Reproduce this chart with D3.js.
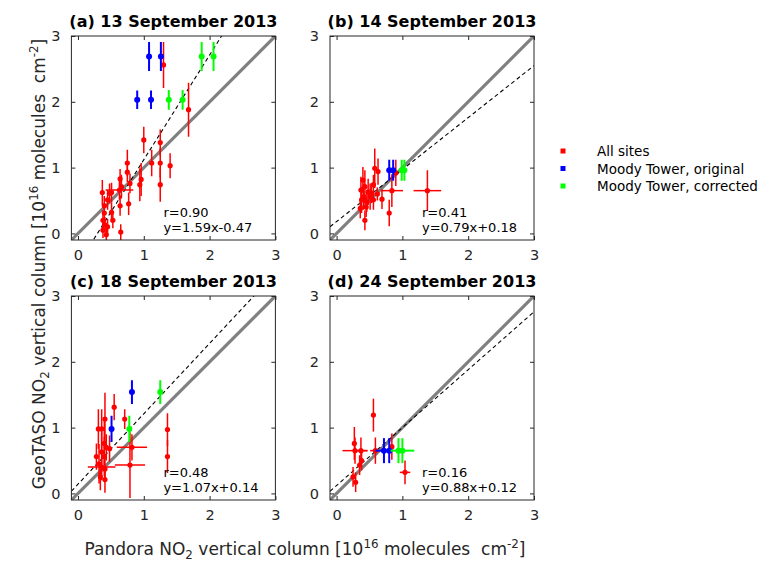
<!DOCTYPE html>
<html>
<head>
<meta charset="utf-8">
<script src="https://cdn.jsdelivr.net/npm/d3@7"></script>
<style>
  body { margin: 0; background: #fff; }
  svg { font-family: "DejaVu Sans", sans-serif; }
</style>
</head>
<body>
<div id="app"></div>
<script>
// each point: [pandora, geotaso, yErr, xErr]
const redA = [
  [1.30, 2.56, 0.35, 0], [1.68, 1.88, 0.41, 0], [1.00, 1.42, 0.20, 0], [1.25, 1.38, 0.20, 0],
  [1.12, 1.07, 0.20, 0], [1.25, 1.07, 0.22, 0], [1.25, 0.74, 0.26, 0], [1.40, 1.03, 0.19, 0],
  [0.75, 1.07, 0.20, 0], [0.75, 0.93, 0.15, 0], [0.79, 0.76, 0.15, 0], [0.96, 0.82, 0.25, 0],
  [0.94, 0.74, 0.25, 0], [0.64, 0.83, 0.15, 0], [0.66, 0.71, 0.18, 0], [0.63, 0.66, 0.15, 0.21],
  [0.77, 0.45, 0.17, 0], [0.64, 0.42, 0.15, 0], [0.48, 0.61, 0.15, 0], [0.37, 0.62, 0.19, 0],
  [0.51, 0.62, 0.15, 0], [0.45, 0.51, 0.15, 0], [0.40, 0.42, 0.15, 0], [0.51, 0.32, 0.15, 0],
  [0.53, 0.20, 0.12, 0], [0.40, 0.31, 0.15, 0], [0.38, 0.20, 0.15, 0], [0.41, 0.13, 0.12, 0],
  [0.38, 0.05, 0.12, 0], [0.45, 0.10, 0.12, 0], [0.43, -0.02, 0.12, 0], [0.65, 0.02, 0.12, 0]
]
const blueA = [[1.08, 2.69, 0.22, 0], [1.26, 2.69, 0.22, 0], [0.90, 2.03, 0.14, 0], [1.11, 2.03, 0.14, 0]]
const greenA = [[1.88, 2.69, 0.22, 0], [2.06, 2.69, 0.22, 0], [1.38, 2.03, 0.15, 0], [1.59, 2.03, 0.15, 0]]

const redB = [
  [0.37, 0.66, 0.20, 0], [0.43, 0.71, 0.25, 0], [0.41, 0.56, 0.20, 0], [0.48, 0.63, 0.20, 0],
  [0.53, 0.61, 0.15, 0], [0.56, 0.74, 0.15, 0], [0.58, 0.99, 0.30, 0], [0.63, 0.94, 0.20, 0],
  [0.36, 0.38, 0.15, 0], [0.43, 0.20, 0.15, 0], [0.69, 0.52, 0.15, 0], [0.80, 0.31, 0.20, 0],
  [0.84, 0.65, 0.25, 0.17], [0.90, 0.92, 0.20, 0], [0.46, 0.48, 0.15, 0], [0.51, 0.56, 0.20, 0],
  [0.38, 0.51, 0.20, 0], [0.56, 0.51, 0.15, 0], [0.40, 0.81, 0.20, 0], [1.38, 0.65, 0.31, 0.21],
  [0.45, 0.40, 0.15, 0], [0.62, 0.60, 0.10, 0]
]
const blueB = [[0.80, 0.96, 0.16, 0], [0.86, 0.96, 0.16, 0]]
const greenB = [[0.99, 0.96, 0.16, 0], [1.03, 0.96, 0.16, 0]]

const redC = [
  [1.36, 0.97, 0.25, 0], [1.36, 0.56, 0.25, 0], [0.82, 0.70, 0.20, 0.23], [0.79, 0.43, 0.50, 0.23],
  [0.36, 0.40, 0.20, 0.21], [0.71, 1.13, 0.15, 0], [0.55, 1.31, 0.20, 0], [0.41, 1.13, 0.40, 0],
  [0.31, 0.98, 0.30, 0], [0.36, 0.98, 0.30, 0], [0.40, 0.76, 0.40, 0], [0.48, 0.68, 0.20, 0],
  [0.28, 0.56, 0.20, 0], [0.36, 0.63, 0.30, 0], [0.40, 0.56, 0.30, 0], [0.32, 0.45, 0.30, 0],
  [0.41, 0.37, 0.20, 0], [0.34, 0.25, 0.20, 0], [0.41, 0.21, 0.20, 0], [0.43, 0.70, 0.20, 0]
]
const blueC = [[0.82, 1.54, 0.18, 0], [0.51, 0.98, 0.20, 0]]
const greenC = [[1.25, 1.54, 0.18, 0], [0.78, 0.98, 0.20, 0]]

const redD = [
  [0.56, 1.19, 0.25, 0], [0.27, 0.76, 0.25, 0], [0.28, 0.65, 0.20, 0.19], [0.37, 0.65, 0.20, 0.10],
  [0.38, 0.50, 0.15, 0], [0.35, 0.43, 0.15, 0], [0.25, 0.25, 0.15, 0], [0.29, 0.17, 0.15, 0],
  [0.59, 0.65, 0.20, 0.08], [0.84, 0.71, 0.20, 0], [1.04, 0.32, 0.18, 0.08]
]
const blueD = [[0.72, 0.65, 0.19, 0.13], [0.80, 0.65, 0.19, 0]]
const greenD = [[0.94, 0.65, 0.19, 0], [1.00, 0.65, 0.19, 0.18]]

const titles = ["(a) 13 September 2013", "(b) 14 September 2013", "(c) 18 September 2013", "(d) 24 September 2013"]
const rValues = ["0.90", "0.41", "0.48", "0.16"]
const slopes = [1.59, 0.79, 1.07, 0.88]
const intercepts = [-0.47, 0.18, 0.14, 0.12]
const tickValues = [0, 1, 2, 3]
const legendLabels = ["All sites", "Moody Tower, original", "Moody Tower, corrected"]
const colors = ["#ff0000", "#0000ff", "#00ff00"]

const reds = [redA, redB, redC, redD]
const blues = [blueA, blueB, blueC, blueD]
const greens = [greenA, greenB, greenC, greenD]

const W = 763, H = 563
const panelLefts = [71.4, 330, 71.4, 330]
const panelTops = [36, 36, 296, 296]
const size = 204

const svg = d3.select('#app').append('svg')
    .attr('width', W)
    .attr('height', H)

const fmtEq = (m, b) => `y=${m.toFixed(2)}x${b < 0 ? '-' : '+'}${Math.abs(b).toFixed(2)}`

for (let p = 0; p < 4; p++) {
    const L = panelLefts[p], T = panelTops[p]
    const x = d3.scaleLinear([-0.1, 3], [L, L + size])
    const y = d3.scaleLinear([-0.1, 3], [T + size, T])

    const g = svg.append('g')

    g.append('clipPath').attr('id', `clip${p}`)
        .append('rect').attr('x', L).attr('y', T).attr('width', size).attr('height', size)

    const plot = g.append('g').attr('clip-path', `url(#clip${p})`)

    // 1:1 line
    plot.append('line')
        .attr('x1', x(-0.1)).attr('y1', y(-0.1))
        .attr('x2', x(3)).attr('y2', y(3))
        .attr('stroke', '#808080').attr('stroke-width', 3.2)

    // regression line
    const m = slopes[p], b = intercepts[p]
    plot.append('line')
        .attr('x1', x(-0.1)).attr('y1', y(m * -0.1 + b))
        .attr('x2', x(3)).attr('y2', y(m * 3 + b))
        .attr('stroke', '#000').attr('stroke-width', 1.1)
        .attr('stroke-dasharray', '4,3')

    const drawSeries = (data, color, lw, r) => {
        const s = plot.append('g')
        s.selectAll('.ey').data(data).join('line')
            .attr('x1', d => x(d[0])).attr('x2', d => x(d[0]))
            .attr('y1', d => y(d[1] - d[2])).attr('y2', d => y(d[1] + d[2]))
            .attr('stroke', color).attr('stroke-width', lw)
        s.selectAll('.ex').data(data.filter(d => d[3] > 0)).join('line')
            .attr('x1', d => x(d[0] - d[3])).attr('x2', d => x(d[0] + d[3]))
            .attr('y1', d => y(d[1])).attr('y2', d => y(d[1]))
            .attr('stroke', color).attr('stroke-width', lw)
        s.selectAll('circle').data(data).join('circle')
            .attr('cx', d => x(d[0])).attr('cy', d => y(d[1]))
            .attr('r', r).attr('fill', color)
    }
    drawSeries(reds[p], colors[0], 1.5, 2.6)
    drawSeries(blues[p], colors[1], 2, 3)
    drawSeries(greens[p], colors[2], 2, 3)

    // box
    g.append('rect')
        .attr('x', L).attr('y', T).attr('width', size).attr('height', size)
        .attr('fill', 'none').attr('stroke', '#262626').attr('stroke-width', 1)

    const styleAxis = a => {
        a.select('.domain').remove()
        a.selectAll('.tick line').attr('stroke', '#262626')
        a.selectAll('.tick text').attr('fill', '#262626')
            .attr('font-family', '"DejaVu Sans", sans-serif').attr('font-size', 14.5)
    }
    g.append('g').attr('transform', `translate(0,${T + size})`)
        .call(d3.axisBottom(x).tickValues(tickValues).tickSize(-4).tickPadding(10).tickFormat(d3.format('d')))
        .call(styleAxis)
    g.append('g').attr('transform', `translate(0,${T})`)
        .call(d3.axisTop(x).tickValues(tickValues).tickSize(-4).tickFormat(''))
        .call(styleAxis)
    g.append('g').attr('transform', `translate(${L},0)`)
        .call(d3.axisLeft(y).tickValues(tickValues).tickSize(-4).tickPadding(11).tickFormat(d3.format('d')))
        .call(styleAxis)
    g.append('g').attr('transform', `translate(${L + size},0)`)
        .call(d3.axisRight(y).tickValues(tickValues).tickSize(-4).tickFormat(''))
        .call(styleAxis)

    g.append('text')
        .attr('x', L + size / 2).attr('y', T - 9)
        .attr('text-anchor', 'middle')
        .attr('font-weight', 'bold').attr('font-size', 16)
        .attr('fill', '#000')
        .text(titles[p])

    g.append('text').attr('x', L + 92).attr('y', T + size - 23.5)
        .attr('font-size', 13).attr('fill', '#000').text(`r=${rValues[p]}`)
    g.append('text').attr('x', L + 92).attr('y', T + size - 8)
        .attr('font-size', 13).attr('fill', '#000').text(fmtEq(m, b))
}

// axis labels
const addLabel = (sel, name) => {
    sel.append('tspan').text(`${name} NO`)
    sel.append('tspan').attr('font-size', '0.7em').attr('dy', 4).text('2')
    sel.append('tspan').attr('dy', -4).text(' vertical column [10')
    sel.append('tspan').attr('font-size', '0.7em').attr('dy', -7).text('16')
    sel.append('tspan').attr('dy', 7).text(' molecules \u00a0cm')
    sel.append('tspan').attr('font-size', '0.7em').attr('dy', -7).text('-2')
    sel.append('tspan').attr('dy', 7).text(']')
}
svg.append('text')
    .attr('x', 305).attr('y', 555)
    .attr('text-anchor', 'middle').attr('font-size', 17).attr('fill', '#262626')
    .call(addLabel, 'Pandora')
svg.append('text')
    .attr('transform', 'translate(45,264) rotate(-90)')
    .attr('text-anchor', 'middle').attr('font-size', 17).attr('fill', '#262626')
    .call(addLabel, 'GeoTASO')

// legend
const legendY = d3.scalePoint(legendLabels, [151, 186])
const legend = svg.append('g')
legend.selectAll('rect').data(legendLabels).join('rect')
    .attr('x', 560.5).attr('y', d => legendY(d) - 2.5)
    .attr('width', 5).attr('height', 5)
    .attr('fill', (d, i) => colors[i])
legend.selectAll('text').data(legendLabels).join('text')
    .attr('x', 597).attr('y', d => legendY(d) + 5)
    .attr('font-size', 13.5).attr('fill', '#000')
    .text(d => d)
</script>
</body>
</html>
